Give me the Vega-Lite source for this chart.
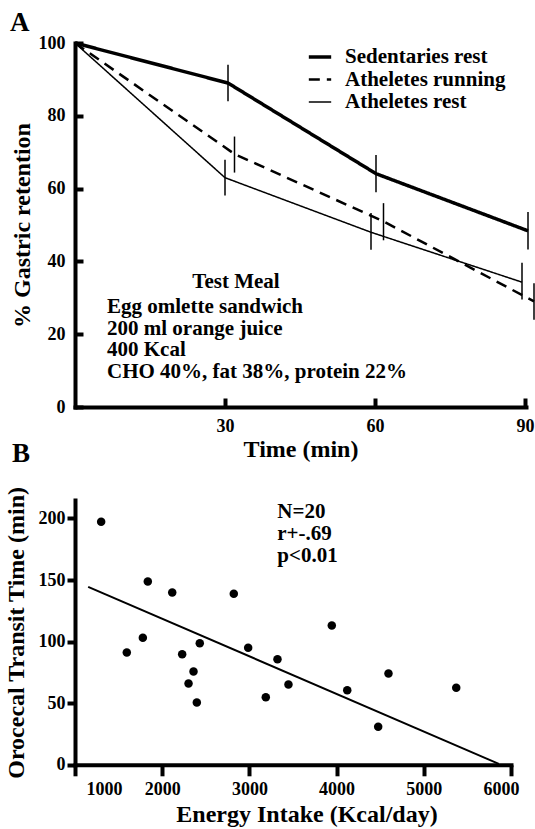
{
  "$schema": "https://vega.github.io/schema/vega-lite/v6.json",
  "padding": {"left": 3, "top": 9, "right": 0, "bottom": 0},
  "background": "white",
  "spacing": -21,
  "config": {
    "font": "Liberation Serif",
    "view": {"stroke": null},
    "axis": {
      "labelFont": "Liberation Serif", "labelFontWeight": "bold", "labelFontSize": 18, "labelColor": "black",
      "titleFont": "Liberation Serif", "titleFontWeight": "bold", "titleFontSize": 24, "titleColor": "black",
      "domainColor": "black", "domainWidth": 4, "domainCap": "square",
      "tickColor": "black", "tickWidth": 4, "grid": false, "labelFlush": false
    },
    "title": {"font": "Liberation Serif", "fontWeight": "bold", "fontSize": 27, "color": "black"}
  },
  "vconcat": [
    {
      "width": 451,
      "height": 364,
      "title": {"text": "A", "anchor": "start", "frame": "group", "offset": -3, "dx": -65},
      "data": {"values": [
        {"group": "Sedentaries rest", "time": 0, "retention": 100},
        {"group": "Sedentaries rest", "time": 30.6, "retention": 89, "lo": 84, "hi": 94},
        {"group": "Sedentaries rest", "time": 60.2, "retention": 64.1, "lo": 59, "hi": 69.2},
        {"group": "Sedentaries rest", "time": 90.6, "retention": 48.4, "lo": 43.3, "hi": 53.6},
        {"group": "Atheletes running", "time": 0, "retention": 100},
        {"group": "Atheletes running", "time": 31.9, "retention": 69.5, "lo": 64.4, "hi": 74.3},
        {"group": "Atheletes running", "time": 61.7, "retention": 51, "lo": 45.8, "hi": 56},
        {"group": "Atheletes running", "time": 91.8, "retention": 29, "lo": 24, "hi": 34},
        {"group": "Atheletes rest", "time": 0, "retention": 100},
        {"group": "Atheletes rest", "time": 30, "retention": 63, "lo": 58.1, "hi": 67.9},
        {"group": "Atheletes rest", "time": 59.2, "retention": 48, "lo": 43.2, "hi": 53.3},
        {"group": "Atheletes rest", "time": 89.4, "retention": 34.3, "lo": 29.5, "hi": 39.6}
      ]},
      "layer": [
        {
          "mark": {"type": "line", "color": "black", "strokeCap": "butt"},
          "encoding": {
            "x": {"field": "time", "type": "quantitative",
              "scale": {"domain": [0, 90.2], "nice": false, "zero": false},
              "axis": {"values": [30, 60, 90], "tickSize": -9, "labelPadding": 19, "title": "Time (min)", "titlePadding": 2}},
            "y": {"field": "retention", "type": "quantitative",
              "scale": {"domain": [0, 100], "nice": false},
              "axis": {"values": [0, 20, 40, 60, 80, 100], "tickSize": -8, "labelPadding": 18, "title": "% Gastric retention", "titlePadding": 4}},
            "strokeDash": {"field": "group", "type": "nominal",
              "scale": {"domain": ["Sedentaries rest", "Atheletes running", "Atheletes rest"], "range": [[1, 0], [11, 7], [1, 0]]},
              "legend": {"orient": "none", "legendX": 232, "legendY": 1, "title": null, "symbolType": "stroke", "symbolSize": 500, "symbolStrokeColor": "black", "labelFont": "Liberation Serif", "labelFontWeight": "bold", "labelFontSize": 21, "labelColor": "black", "labelOffset": 12, "rowPadding": 0, "labelLimit": 300}},
            "strokeWidth": {"field": "group", "type": "nominal",
              "scale": {"domain": ["Sedentaries rest", "Atheletes running", "Atheletes rest"], "range": [3.5, 1.5, 1.8]},
              "legend": {"orient": "none", "legendX": 232, "legendY": 1, "title": null, "symbolType": "stroke", "symbolSize": 500, "symbolStrokeColor": "black", "labelFont": "Liberation Serif", "labelFontWeight": "bold", "labelFontSize": 21, "labelColor": "black", "labelOffset": 12, "rowPadding": 0, "labelLimit": 300}}
          }
        },
        {
          "transform": [{"filter": "isValid(datum.lo)"}],
          "mark": {"type": "rule", "color": "black", "strokeWidth": 1.5},
          "encoding": {
            "x": {"field": "time", "type": "quantitative"},
            "y": {"field": "lo", "type": "quantitative"},
            "y2": {"field": "hi"}
          }
        },
        {
          "data": {"values": [{}]},
          "mark": {"type": "text", "align": "center", "baseline": "alphabetic", "fontSize": 21, "fontWeight": "bold", "color": "black", "font": "Liberation Serif"},
          "encoding": {"x": {"datum": 32.2}, "y": {"datum": 32.7}, "text": {"value": "Test Meal"}}
        },
        {
          "data": {"values": [{}]},
          "mark": {"type": "text", "align": "left", "baseline": "alphabetic", "fontSize": 21, "fontWeight": "bold", "color": "black", "font": "Liberation Serif", "lineHeight": 21.7},
          "encoding": {"x": {"datum": 6.4}, "y": {"datum": 25.8}, "text": {"value": ["Egg omlette sandwich", "200 ml orange juice", "400 Kcal", "CHO 40%, fat 38%, protein 22%"]}}
        }
      ]
    },
    {
      "width": 436,
      "height": 264.8,
      "title": {"text": "B", "anchor": "start", "frame": "group", "offset": 18, "dx": -63},
      "layer": [
        {
          "data": {"values": [
            {"energy": 1300, "transit": 197.3},
            {"energy": 1835, "transit": 148.8},
            {"energy": 2115, "transit": 139.9},
            {"energy": 2821, "transit": 138.9},
            {"energy": 1778, "transit": 103.1},
            {"energy": 1594, "transit": 91.2},
            {"energy": 2431, "transit": 98.7},
            {"energy": 2229, "transit": 89.8},
            {"energy": 2986, "transit": 95.0},
            {"energy": 3322, "transit": 85.7},
            {"energy": 2359, "transit": 75.8},
            {"energy": 2302, "transit": 66.0},
            {"energy": 3448, "transit": 65.2},
            {"energy": 3188, "transit": 54.9},
            {"energy": 2397, "transit": 50.6},
            {"energy": 3945, "transit": 113.1},
            {"energy": 4595, "transit": 74.1},
            {"energy": 4122, "transit": 60.6},
            {"energy": 5372, "transit": 62.5},
            {"energy": 4477, "transit": 30.9}
          ]},
          "mark": {"type": "circle", "size": 72, "color": "black", "opacity": 1},
          "encoding": {
            "x": {"field": "energy", "type": "quantitative",
              "scale": {"domain": [1000, 6000], "nice": false, "zero": false},
              "axis": {"values": [1000, 2000, 3000, 4000, 5000, 6000], "format": "d", "tickSize": 11, "labelPadding": 5,
                "labelOffset": {"condition": [{"test": "datum.value === 1000", "value": 29}, {"test": "datum.value === 6000", "value": -10}], "value": 0},
                "title": "Energy Intake (Kcal/day)", "titlePadding": 4, "titleX": 231.5}},
            "y": {"field": "transit", "type": "quantitative",
              "scale": {"domain": [0, 215], "nice": false},
              "axis": {"values": [0, 50, 100, 150, 200], "tickSize": 8, "labelPadding": 2, "title": "Orocecal Transit Time (min)", "titlePadding": 10}}
          }
        },
        {
          "data": {"values": [
            {"energy": 1151, "transit": 144.5},
            {"energy": 5860, "transit": 0.8}
          ]},
          "mark": {"type": "line", "color": "black", "strokeWidth": 2},
          "encoding": {
            "x": {"field": "energy", "type": "quantitative"},
            "y": {"field": "transit", "type": "quantitative"}
          }
        },
        {
          "data": {"values": [{}]},
          "mark": {"type": "text", "align": "left", "baseline": "alphabetic", "fontSize": 21, "fontWeight": "bold", "color": "black", "font": "Liberation Serif", "lineHeight": 21.8},
          "encoding": {"x": {"datum": 3320}, "y": {"datum": 200}, "text": {"value": ["N=20", "r+-.69", "p<0.01"]}}
        }
      ]
    }
  ]
}
